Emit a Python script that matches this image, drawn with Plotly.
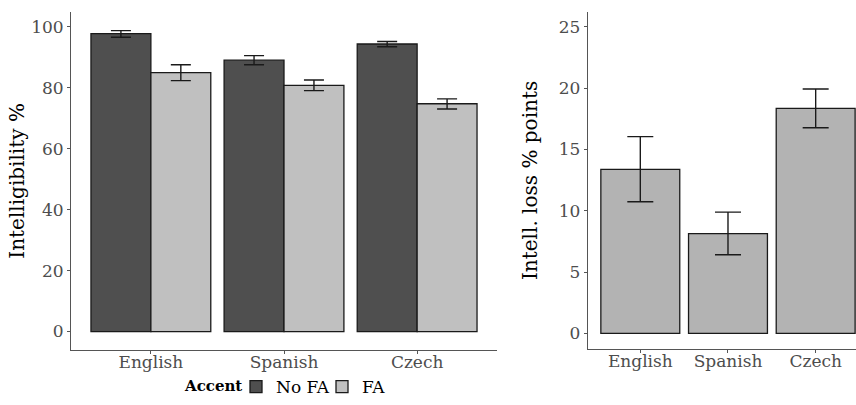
import plotly.graph_objects as go

languages = ["English", "Spanish", "Czech"]
accent_levels = ["No FA", "FA"]

intel_nofa = [97.7, 89.0, 94.3]
intel_nofa_lo = [96.5, 87.5, 93.4]
intel_nofa_hi = [98.7, 90.5, 95.1]

intel_fa = [84.9, 80.7, 74.7]
intel_fa_lo = [82.3, 79.0, 73.0]
intel_fa_hi = [87.5, 82.5, 76.3]

loss = [13.38, 8.13, 18.34]
loss_lo = [10.73, 6.42, 16.77]
loss_hi = [16.04, 9.89, 19.92]

left_ticks = [0, 20, 40, 60, 80, 100]
right_ticks = [0, 5, 10, 15, 20, 25]

FONT = "DejaVu Serif"
TICKCOL = "#4d4d4d"
EDGE = "#1a1a1a"
W, H = 856, 405


def err(v, lo, hi, w):
    return dict(type="data", symmetric=False,
                array=[h - m for m, h in zip(v, hi)],
                arrayminus=[m - l for m, l in zip(v, lo)],
                color=EDGE, thickness=1.4, width=w)


fig = go.Figure()
fig.add_trace(go.Bar(
    x=languages, y=intel_nofa, name=accent_levels[0],
    width=0.45, offset=-0.45,
    marker=dict(color="#4f4f4f", line=dict(color=EDGE, width=1.3)),
    error_y=err(intel_nofa, intel_nofa_lo, intel_nofa_hi, 10),
    xaxis="x", yaxis="y"))
fig.add_trace(go.Bar(
    x=languages, y=intel_fa, name=accent_levels[1],
    width=0.45, offset=0,
    marker=dict(color="#c0c0c0", line=dict(color=EDGE, width=1.3)),
    error_y=err(intel_fa, intel_fa_lo, intel_fa_hi, 10),
    xaxis="x", yaxis="y"))
fig.add_trace(go.Bar(
    x=languages, y=loss, name="loss", showlegend=False,
    width=0.9,
    marker=dict(color="#b3b3b3", line=dict(color=EDGE, width=1.3)),
    error_y=err(loss, loss_lo, loss_hi, 13),
    xaxis="x2", yaxis="y2"))

axis_common = dict(showline=True, linecolor="#555555", linewidth=1,
                   ticks="outside", ticklen=3, tickcolor="#555555",
                   showgrid=False, zeroline=False, automargin=False,
                   tickfont=dict(family=FONT, size=17, color=TICKCOL))

fig.update_layout(
    width=W, height=H,
    margin=dict(l=0, r=0, t=0, b=0),
    paper_bgcolor="white", plot_bgcolor="white",
    barmode="overlay",
    font=dict(family=FONT, color="black"),
    xaxis=dict(domain=[71 / W, 497 / W], range=[-0.6, 2.6], anchor="y",
               ticklabelstandoff=-7, **axis_common),
    yaxis=dict(range=[-6.1, 104.9], tickvals=left_ticks,
               domain=[(H - 351) / H, (H - 11.7) / H], anchor="x",
               title=dict(text="Intelligibility %", font=dict(family=FONT, size=20, color="black"), standoff=1),
               **axis_common),
    xaxis2=dict(domain=[587.7 / W, 1], range=[-0.6, 2.46], anchor="y2",
                ticklabelstandoff=-7, **axis_common),
    yaxis2=dict(range=[-1.28, 26.23], tickvals=right_ticks,
                domain=[(H - 350) / H, (H - 11.7) / H], anchor="x2",
                title=dict(text="Intell. loss % points", font=dict(family=FONT, size=20, color="black"), standoff=15),
                **axis_common),
    legend=dict(orientation="h", x=236 / W, xanchor="left", y=(H - 388) / H, yanchor="middle",
                bgcolor="rgba(0,0,0,0)",
                font=dict(family=FONT, size=17, color="black"),
                entrywidth=41, entrywidthmode="pixels", tracegroupgap=0),
    annotations=[dict(text="<b>Accent</b>", xref="paper", yref="paper",
                      x=182 / W, y=(H - 387) / H, xanchor="left", yanchor="middle",
                      showarrow=False, font=dict(family=FONT, size=15, color="black"))],
)

fig.write_html("out.html", config={"displayModeBar": False},
               post_script="document.body.style.margin='0';")
